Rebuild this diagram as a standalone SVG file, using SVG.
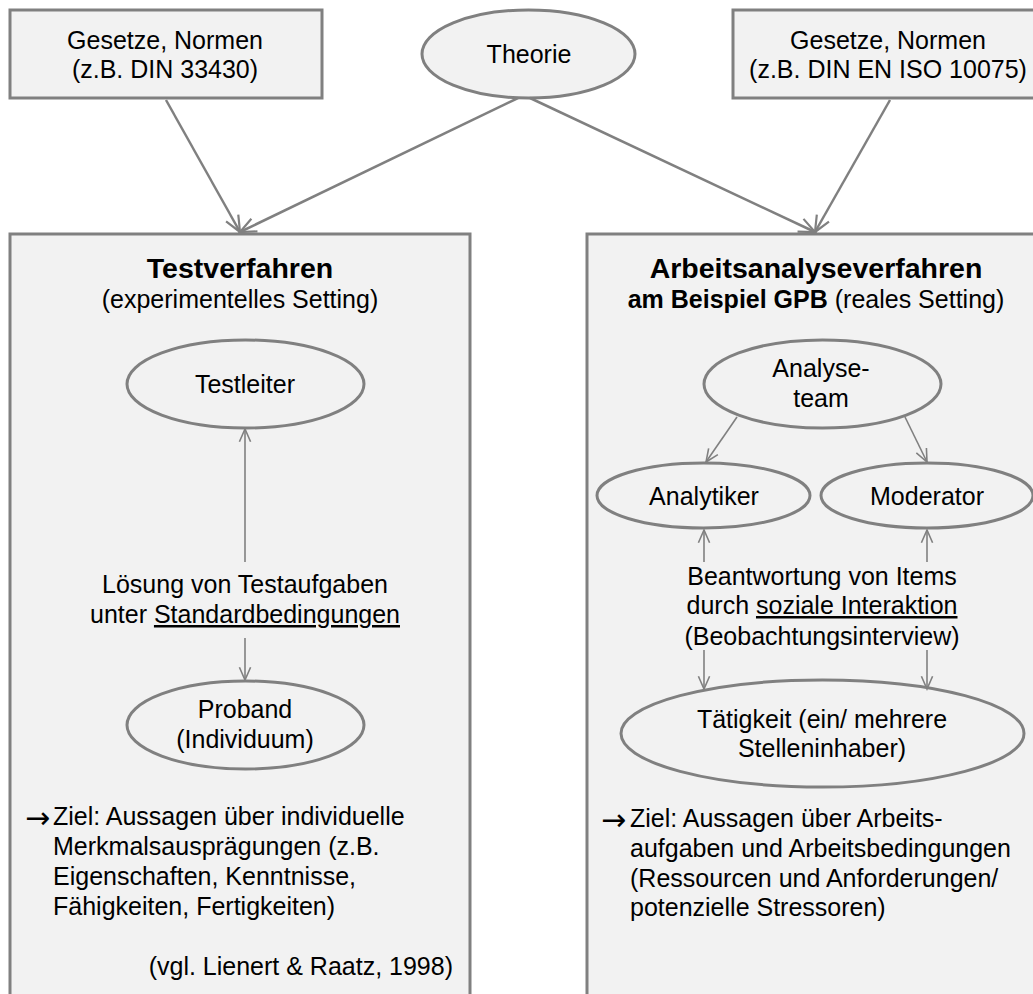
<svg xmlns="http://www.w3.org/2000/svg" width="1033" height="994" viewBox="0 0 1033 994">
<style>
text{font-family:"Liberation Sans",Arial,sans-serif;font-size:25px;fill:#000}
.c{text-anchor:middle}
.b{font-weight:bold}
.t{font-size:28.5px;font-weight:bold}
.arr{font-family:"DejaVu Sans",sans-serif;font-size:30px}
.box{fill:#f2f2f2;stroke:#808080;stroke-width:3}
.ell{fill:#f2f2f2;stroke:#808080;stroke-width:3}
.ell2{fill:none;stroke:#808080;stroke-width:3}
.con{stroke:#808080;fill:none}
.thick{stroke-width:2.5}
.thin{stroke-width:1.6}
.u{text-decoration:underline}
</style>
<defs>
<marker id="ah" viewBox="0 0 20 20" refX="18" refY="10" markerWidth="20" markerHeight="20" markerUnits="userSpaceOnUse" orient="auto">
<path d="M2,3 L18,10 L2,17" fill="none" stroke="#808080" stroke-width="2.2"/>
</marker>
<marker id="ah2" viewBox="0 0 20 20" refX="18" refY="10" markerWidth="16" markerHeight="16" markerUnits="userSpaceOnUse" orient="auto">
<path d="M2,3 L18,10 L2,17" fill="none" stroke="#808080" stroke-width="2"/>
</marker>
</defs>
<rect width="1033" height="994" fill="#fff"/>
<g id="box-testverfahren">
<rect class="box" x="10" y="234" width="460" height="780"/>
<text class="c t" x="240" y="278">Testverfahren</text>
<text class="c" x="240" y="308">(experimentelles Setting)</text>
</g>
<g id="box-arbeitsanalyse">
<rect class="box" x="587" y="234" width="470" height="780"/>
<text class="c t" x="816" y="278">Arbeitsanalyseverfahren</text>
<text class="c" x="816" y="308"><tspan class="b">am Beispiel GPB</tspan> (reales Setting)</text>
</g>
<g id="gesetze-links">
<rect class="box" x="10" y="10" width="312" height="88"/>
<text class="c" x="165" y="49">Gesetze, Normen</text>
<text class="c" x="165" y="78">(z.B. DIN 33430)</text>
</g>
<g id="theorie">
<ellipse class="ell" cx="528.5" cy="54" rx="106.5" ry="44"/>
<text class="c" x="529" y="63">Theorie</text>
</g>
<g id="gesetze-rechts">
<rect class="box" x="733" y="10" width="320" height="88"/>
<text class="c" x="888" y="49">Gesetze, Normen</text>
<text class="c" x="888" y="78">(z.B. DIN EN ISO 10075)</text>
</g>
<g id="testleiter">
<ellipse class="ell2" cx="245.5" cy="384" rx="118.5" ry="44"/>
<text class="c" x="245" y="393">Testleiter</text>
</g>
<g id="loesung">
<text class="c" x="245" y="593">Lösung von Testaufgaben</text>
<text class="c" x="245" y="623">unter <tspan class="u">Standardbedingungen</tspan></text>
</g>
<g id="proband">
<ellipse class="ell2" cx="245.5" cy="725" rx="118.5" ry="44"/>
<text class="c" x="245" y="718">Proband</text>
<text class="c" x="245" y="748">(Individuum)</text>
</g>
<g id="ziel-links">
<text class="arr" x="25" y="828">→</text>
<text x="53" y="825">Ziel: Aussagen über individuelle</text>
<text x="53" y="855">Merkmalsausprägungen (z.B.</text>
<text x="53" y="885">Eigenschaften, Kenntnisse,</text>
<text x="53" y="915">Fähigkeiten, Fertigkeiten)</text>
<text x="453" y="975" text-anchor="end">(vgl. Lienert &amp; Raatz, 1998)</text>
</g>
<g id="analyseteam">
<ellipse class="ell2" cx="822.5" cy="384" rx="118.5" ry="44"/>
<text class="c" x="821" y="377">Analyse-</text>
<text class="c" x="821" y="407">team</text>
</g>
<g id="analytiker">
<ellipse class="ell2" cx="703.5" cy="495.5" rx="106.5" ry="32.5"/>
<text class="c" x="704" y="505">Analytiker</text>
</g>
<g id="moderator">
<ellipse class="ell2" cx="927" cy="495.5" rx="106" ry="32.5"/>
<text class="c" x="927" y="505">Moderator</text>
</g>
<g id="beantwortung">
<text class="c" x="822" y="585">Beantwortung von Items</text>
<text class="c" x="822" y="614">durch <tspan class="u">soziale Interaktion</tspan></text>
<text class="c" x="822" y="645">(Beobachtungsinterview)</text>
</g>
<g id="taetigkeit">
<ellipse class="ell2" cx="822.5" cy="733.5" rx="201.5" ry="53.5"/>
<text class="c" x="822" y="728">Tätigkeit (ein/ mehrere</text>
<text class="c" x="822" y="757">Stelleninhaber)</text>
</g>
<g id="ziel-rechts">
<text class="arr" x="601" y="830">→</text>
<text x="630" y="827">Ziel: Aussagen über Arbeits-</text>
<text x="630" y="857">aufgaben und Arbeitsbedingungen</text>
<text x="630" y="887">(Ressourcen und Anforderungen/</text>
<text x="630" y="916">potenzielle Stressoren)</text>
</g>
<g id="connectors">
<line class="con thick" x1="166" y1="100" x2="240" y2="232" marker-end="url(#ah)"/>
<line class="con thick" x1="518" y1="98" x2="240" y2="232" marker-end="url(#ah)"/>
<line class="con thick" x1="530" y1="98" x2="815" y2="232" marker-end="url(#ah)"/>
<line class="con thick" x1="890" y1="100" x2="815" y2="232" marker-end="url(#ah)"/>
<line class="con thin" x1="245" y1="562" x2="245" y2="429" marker-end="url(#ah2)"/>
<line class="con thin" x1="245" y1="638" x2="245" y2="680" marker-end="url(#ah2)"/>
<line class="con thin" x1="737" y1="417" x2="706" y2="462" marker-end="url(#ah2)"/>
<line class="con thin" x1="905" y1="417" x2="927" y2="462" marker-end="url(#ah2)"/>
<line class="con thin" x1="704" y1="562" x2="704" y2="530" marker-end="url(#ah2)"/>
<line class="con thin" x1="927" y1="562" x2="927" y2="530" marker-end="url(#ah2)"/>
<line class="con thin" x1="704" y1="650" x2="704" y2="689" marker-end="url(#ah2)"/>
<line class="con thin" x1="927" y1="650" x2="927" y2="689" marker-end="url(#ah2)"/>
</g>
</svg>
